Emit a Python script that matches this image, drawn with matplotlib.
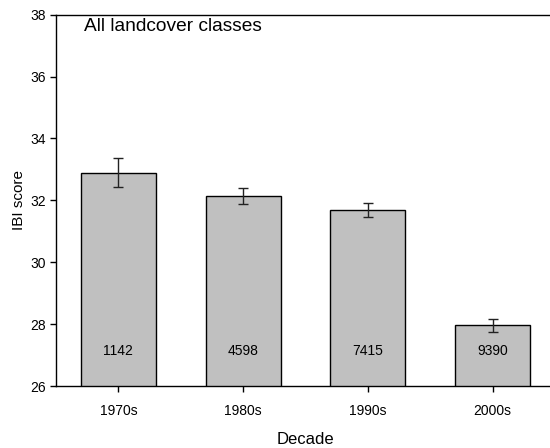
import numpy as np
import matplotlib.pyplot as plt

plt.rcParams['font.family'] = ['Liberation Sans', 'DejaVu Sans']

decades = ['1970s', '1980s', '1990s', '2000s']
ibi_mean = [32.90, 32.14, 31.68, 27.96]
ibi_err = [0.47, 0.26, 0.22, 0.20]
n_sites = [1142, 4598, 7415, 9390]

fig = plt.figure(figsize=(5.5, 4.48), dpi=100)
ax = fig.add_axes([56 / 550, 1 - 386 / 448, (555 - 56) / 550, (386 - 14.7) / 448])

x = np.arange(len(decades))
ax.bar(x, ibi_mean, width=0.6, bottom=0, color='#c0c0c0', edgecolor='black',
       linewidth=1.0, zorder=2)
ax.errorbar(x, ibi_mean, yerr=ibi_err, fmt='none', ecolor='#222222',
            elinewidth=1.0, capsize=3.5, capthick=1.0, zorder=3)

# sample counts written near the foot of each bar
for xi, n in zip(x, n_sites):
    ax.text(xi, 27.13, str(n), ha='center', va='center', fontsize=10)

ax.text(0.056, 0.99, 'All landcover classes', transform=ax.transAxes,
        ha='left', va='top', fontsize=13.8)

ax.set_xlim(-0.5, 3.5)
ax.set_ylim(26, 38)
ax.set_yticks(np.arange(26, 39, 2))
ax.set_xticks(x)
ax.set_xticklabels(decades)
ax.tick_params(axis='both', direction='out', length=4, width=1, labelsize=10)
ax.tick_params(axis='x', pad=9)
ax.set_xlabel('Decade', fontsize=12, labelpad=10)
ax.set_ylabel('IBI score', fontsize=11, labelpad=3)
for s in ax.spines.values():
    s.set_linewidth(1.0)

fig.savefig('out.png', dpi=100)
